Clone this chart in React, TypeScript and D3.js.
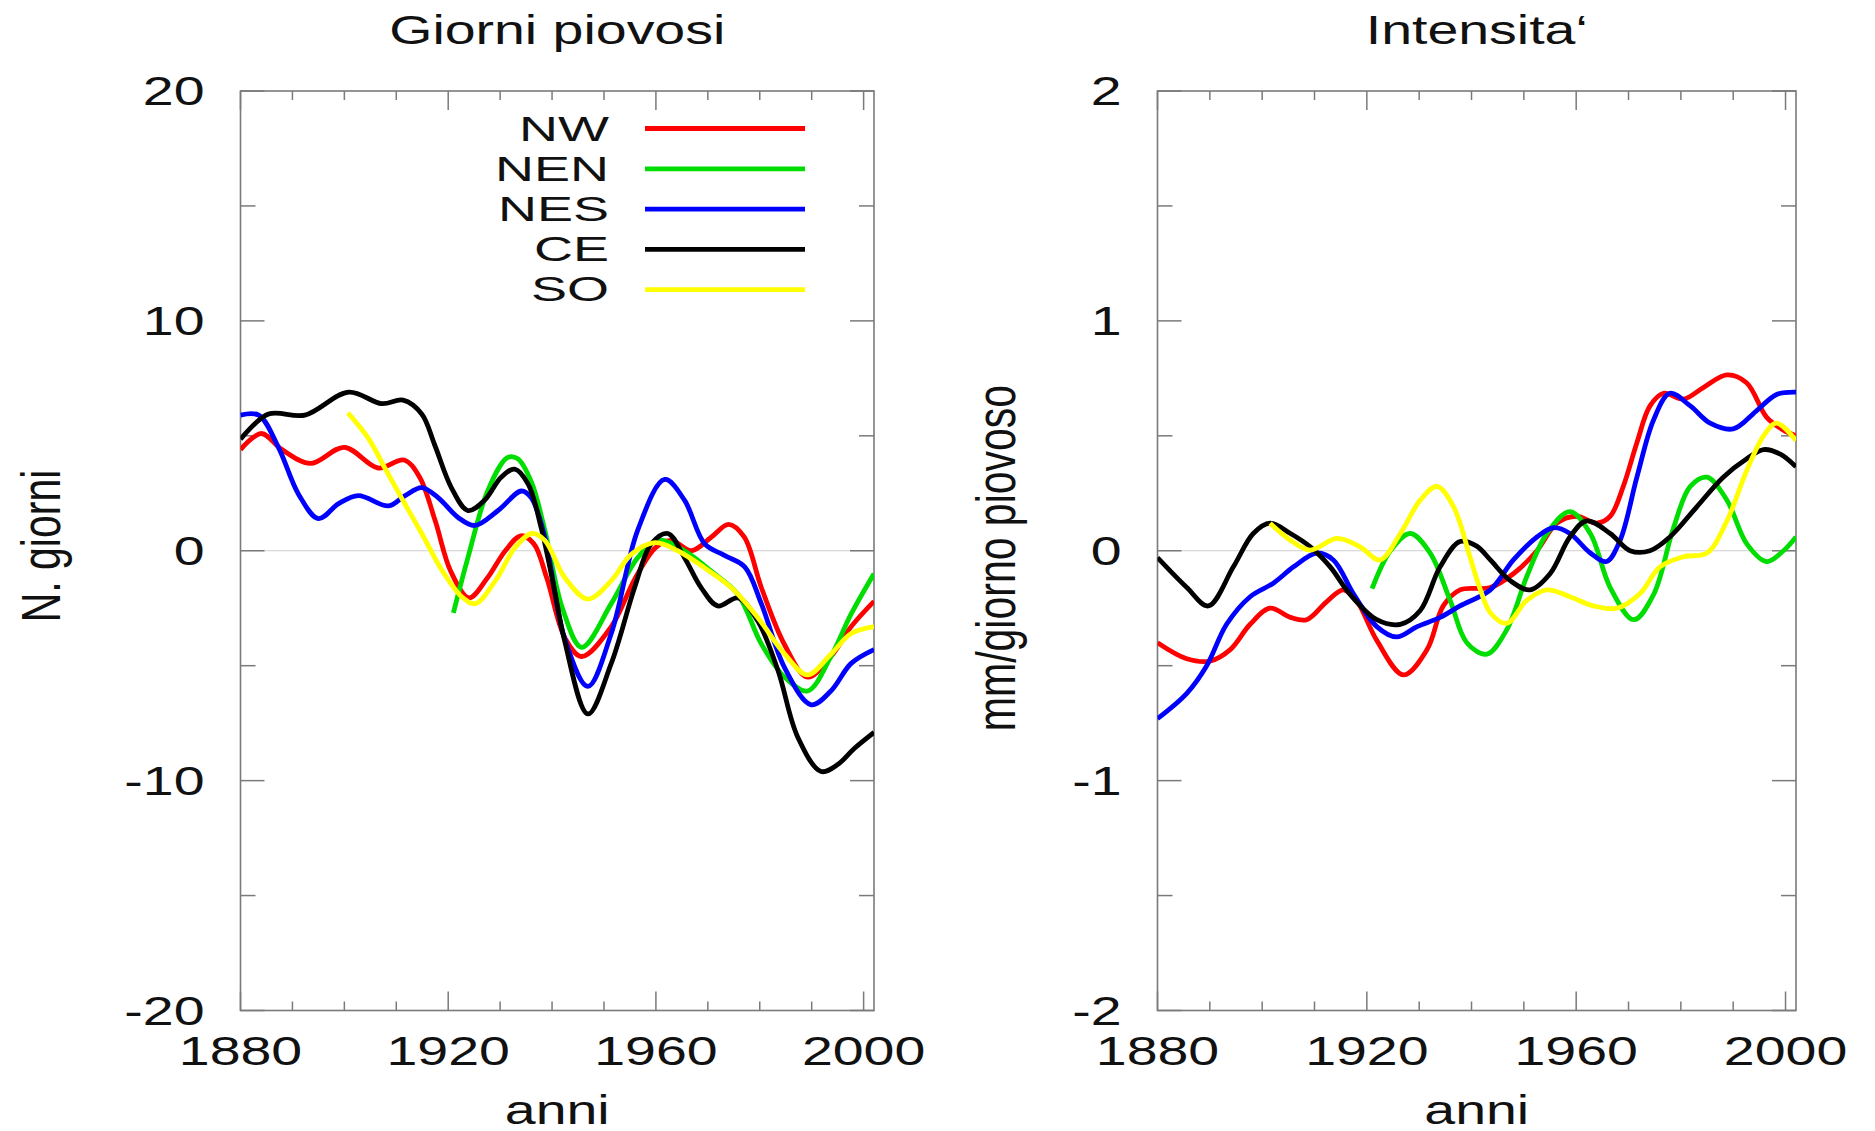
import * as d3 from 'd3';

// canvas + shared styling
const W = 1875;
const H = 1131;
const FONT = '"Liberation Sans", Arial, Helvetica, sans-serif';
const SX = 1.37; // the original picture is stretched horizontally
const FS = 40.5;
const FRAME = '#7a7a7a';

const seriesNames = ['NW', 'NEN', 'NES', 'CE', 'SO'];
const seriesColors = ['#ff0000', '#00dd00', '#0000ff', '#000000', '#ffff00'];

const xTicks = [1880, 1920, 1960, 2000];
const xMinor = [1890, 1900, 1910, 1930, 1940, 1950, 1970, 1980, 1990];

const giorniTicks = [20, 10, 0, -10, -20];
const giorniMinor = [15, 5, -5, -15];
const intensitaTicks = [2, 1, 0, -1, -2];
const intensitaMinor = [1.5, 0.5, -0.5, -1.5];

// Giorni piovosi (anomalie, n. giorni)
const giorniNW = [
  [1880, 4.4], [1884, 5.1], [1888, 4.4], [1893.5, 3.8], [1900, 4.5], [1906.5, 3.6],
  [1911.5, 3.95], [1914.5, 3.2], [1917.5, 1.3], [1920.5, -0.9], [1924, -2.05],
  [1927.5, -1.2], [1931, 0], [1934, 0.65], [1936.5, 0.3], [1939, -1.2], [1942.5, -3.8],
  [1945.7, -4.6], [1951.4, -3.3], [1956, -1.2], [1960, 0.15], [1963, 0.45], [1966.8, 0],
  [1970.7, 0.6], [1974, 1.15], [1977, 0.6], [1980.3, -1.6], [1984.8, -4.1],
  [1989.2, -5.5], [1993.7, -4.6], [1997.6, -3.3], [2002, -2.2],
];
const giorniNEN = [
  [1921, -2.7], [1923.8, -0.3], [1927.6, 2.6], [1931.4, 4.05], [1933.4, 4.0],
  [1936, 3.0], [1938.5, 1.0], [1942, -2.5], [1945.7, -4.2], [1951.4, -2.3],
  [1956.5, -0.3], [1960.4, 0.45], [1965.5, 0], [1970.7, -0.9], [1975.8, -1.9],
  [1980.3, -4.05], [1984.8, -5.5], [1989.2, -6.1], [1993.7, -4.6], [1997.6, -2.75],
  [2002, -1.0],
];
const giorniNES = [
  [1880, 5.9], [1883.5, 5.9], [1887.3, 4.5], [1891.2, 2.45], [1895, 1.4], [1898.9, 2.05],
  [1902.7, 2.4], [1908.5, 1.95], [1911.7, 2.4], [1914.9, 2.75], [1918.1, 2.3],
  [1921.9, 1.45], [1925.1, 1.1], [1929.6, 1.75], [1934.1, 2.6], [1936, 2.3],
  [1938.6, 0.6], [1942.4, -3.8], [1946.9, -5.9], [1951.4, -3.6], [1956.5, 0.9],
  [1961.7, 3.1], [1965.5, 2.2], [1969.4, 0.3], [1973.2, -0.2], [1977.1, -0.7],
  [1980.3, -2.3], [1984.8, -5.1], [1989.9, -6.7], [1993.7, -6.1], [1997.6, -4.9],
  [2002, -4.3],
];
const giorniCE = [
  [1880, 4.85], [1885.4, 5.95], [1892.4, 5.9], [1900.8, 6.9], [1907.2, 6.4],
  [1911.3, 6.55], [1914.9, 5.95], [1917.4, 4.6], [1920.6, 2.75], [1923.8, 1.75],
  [1927, 2.2], [1930.2, 3.2], [1932.8, 3.55], [1935.4, 2.9], [1937.9, 1.0],
  [1940.5, -1.75], [1942.4, -3.9], [1946.9, -7.1], [1951.4, -4.9], [1955.9, -1.6],
  [1959.1, 0.3], [1962.3, 0.75], [1965.5, -0.3], [1968.7, -1.6], [1971.9, -2.4],
  [1975.8, -2.05], [1979.6, -3.05], [1983.5, -5.2], [1987.3, -8.1], [1991.8, -9.6],
  [1995, -9.3], [1998.2, -8.6], [2002, -7.9],
];
const giorniSO = [
  [1900.7, 6.0], [1904.6, 4.9], [1907.8, 3.6], [1911, 2.3], [1914.9, 0.75],
  [1918.8, -0.85], [1922.6, -2.0], [1925.2, -2.3], [1929.1, -1.3], [1932.9, 0.15],
  [1936.1, 0.75], [1938.6, 0.45], [1942.4, -1.15], [1946.9, -2.1], [1951.4, -1.3],
  [1955.3, -0.15], [1959.8, 0.35], [1964.2, 0], [1969.4, -0.75], [1974.5, -1.6],
  [1979.6, -2.9], [1984.8, -4.5], [1989.2, -5.4], [1993.7, -4.5], [1997.6, -3.6],
  [2002, -3.3],
];

// Intensita' (mm/giorno piovoso)
const intensNW = [
  [1880, -0.4], [1885.6, -0.47], [1890, -0.48], [1893.9, -0.43], [1897.7, -0.32],
  [1901.5, -0.25], [1905.4, -0.29], [1908.5, -0.3], [1912.4, -0.22], [1915.5, -0.17],
  [1918.1, -0.22], [1921.9, -0.39], [1927, -0.54], [1931.5, -0.43], [1934.6, -0.24],
  [1937.8, -0.17], [1943.6, -0.16], [1948, -0.1], [1952.5, 0], [1956.3, 0.12],
  [1960.1, 0.15], [1963.9, 0.12], [1966.5, 0.15], [1969, 0.28], [1971.6, 0.47],
  [1974.1, 0.63], [1976.7, 0.685], [1980.5, 0.66], [1984.3, 0.71], [1988.8, 0.765],
  [1992.6, 0.73], [1996.4, 0.58], [1999.6, 0.525], [2002, 0.5],
];
const intensNEN = [
  [1921, -0.165], [1924.5, 0], [1928.3, 0.075], [1932.1, -0.01], [1935.9, -0.215],
  [1939.1, -0.4], [1942.9, -0.45], [1946.7, -0.345], [1950.6, -0.11], [1954.4, 0.075],
  [1958.8, 0.17], [1962.7, 0.075], [1966.5, -0.16], [1971, -0.3], [1974.8, -0.19],
  [1978.6, 0.1], [1981.8, 0.28], [1985, 0.32], [1988.8, 0.22], [1992.6, 0.03],
  [1996.4, -0.047], [1999.6, 0], [2002, 0.06],
];
const intensNES = [
  [1880, -0.73], [1885.6, -0.62], [1889.4, -0.5], [1893.2, -0.32], [1897.7, -0.2],
  [1902.2, -0.14], [1906, -0.07], [1910.4, -0.01], [1913.6, -0.04], [1917.5, -0.19],
  [1921.9, -0.33], [1925.7, -0.375], [1929.6, -0.33], [1934, -0.29], [1937.8, -0.24],
  [1943.6, -0.17], [1948, -0.04], [1952.5, 0.06], [1955.7, 0.1], [1958.8, 0.075],
  [1962.7, -0.01], [1965.8, -0.047], [1968.4, 0.046], [1971.6, 0.32], [1974.8, 0.57],
  [1977.9, 0.685], [1981.8, 0.63], [1985.6, 0.555], [1990, 0.53], [1994.5, 0.61],
  [1998.3, 0.68], [2002, 0.69],
];
const intensCE = [
  [1880, -0.03], [1885.6, -0.16], [1889.7, -0.24], [1894.5, -0.07], [1898.3, 0.075],
  [1901.5, 0.12], [1905.4, 0.075], [1909.2, 0.017], [1913, -0.07], [1916.8, -0.19],
  [1921.9, -0.3], [1926.4, -0.32], [1930.2, -0.26], [1934, -0.07], [1937.8, 0.04],
  [1941, 0.02], [1943.6, -0.04], [1947.4, -0.13], [1951.2, -0.17], [1955, -0.1],
  [1958.8, 0.06], [1962, 0.13], [1966.5, 0.075], [1970.3, 0], [1974.1, 0],
  [1977.9, 0.06], [1983, 0.19], [1988.1, 0.32], [1992.6, 0.4], [1995.8, 0.44],
  [1999, 0.42], [2002, 0.365],
];
const intensSO = [
  [1901.5, 0.12], [1905.4, 0.046], [1909.2, 0.003], [1914.3, 0.054], [1918.7, 0.017],
  [1922.5, -0.04], [1926.4, 0.075], [1930.2, 0.22], [1933.4, 0.28], [1936.6, 0.19],
  [1939.7, -0.026], [1941.5, -0.157], [1943.6, -0.27], [1946.7, -0.316],
  [1950.6, -0.215], [1954.4, -0.17], [1958.8, -0.2], [1963.3, -0.24], [1967.8, -0.25],
  [1972.2, -0.186], [1976, -0.07], [1980.5, -0.026], [1985, -0.01], [1988.8, 0.13],
  [1992.6, 0.35], [1995.8, 0.5], [1998.3, 0.555], [2002, 0.48],
];

const TOP = 91;
const BOTTOM = 1010.5;

function Label({ x, y, anchor = 'middle', size = FS, sx = SX, children }) {
  return (
    <text
      transform={`translate(${x},${y}) scale(${sx},1)`}
      textAnchor={anchor}
      fontFamily={FONT}
      fontSize={size}
      fill="#111"
    >
      {children}
    </text>
  );
}

function Panel({ id, left, right, title, yLabel, yLabelX, yLabelY, yDomain, yTicks, yMinor, series, legend }) {
  const x = d3.scaleLinear().domain([1880, 2002]).range([left, right]);
  const y = d3.scaleLinear().domain(yDomain).range([BOTTOM, TOP]);
  const line = d3
    .line()
    .x(d => x(d[0]))
    .y(d => y(d[1]))
    .curve(d3.curveCatmullRom.alpha(0.5));
  const cx = (left + right) / 2;

  return (
    <g>
      <defs>
        <clipPath id={`clip-${id}`}>
          <rect x={left} y={TOP} width={right - left} height={BOTTOM - TOP} />
        </clipPath>
      </defs>

      <Label x={cx} y={44}>{title}</Label>

      {/* zero line */}
      <line x1={left} x2={right} y1={y(0)} y2={y(0)} stroke="#cfcfcf" strokeWidth={1.2} />

      {/* frame + ticks */}
      <rect x={left} y={TOP} width={right - left} height={BOTTOM - TOP} fill="none" stroke={FRAME} strokeWidth={1.6} />
      {xTicks.map(t => (
        <g key={'xt' + t} stroke={FRAME} strokeWidth={1.5}>
          <line x1={x(t)} x2={x(t)} y1={BOTTOM} y2={BOTTOM - 19} />
          <line x1={x(t)} x2={x(t)} y1={TOP} y2={TOP + 19} />
        </g>
      ))}
      {xMinor.map(t => (
        <g key={'xm' + t} stroke={FRAME} strokeWidth={1.5}>
          <line x1={x(t)} x2={x(t)} y1={BOTTOM} y2={BOTTOM - 9} />
          <line x1={x(t)} x2={x(t)} y1={TOP} y2={TOP + 9} />
        </g>
      ))}
      {yTicks.map(t => (
        <g key={'yt' + t} stroke={FRAME} strokeWidth={1.5}>
          <line x1={left} x2={left + 24} y1={y(t)} y2={y(t)} />
          <line x1={right} x2={right - 24} y1={y(t)} y2={y(t)} />
        </g>
      ))}
      {yMinor.map(t => (
        <g key={'ym' + t} stroke={FRAME} strokeWidth={1.5}>
          <line x1={left} x2={left + 15} y1={y(t)} y2={y(t)} />
          <line x1={right} x2={right - 15} y1={y(t)} y2={y(t)} />
        </g>
      ))}

      {yTicks.map(t => (
        <Label key={'yl' + t} x={left - 36} y={y(t) + 14} anchor="end">{t}</Label>
      ))}
      {xTicks.map(t => (
        <Label key={'xl' + t} x={x(t)} y={1065}>{t}</Label>
      ))}

      <Label x={cx} y={1124}>anni</Label>
      <text
        transform={`translate(${yLabelX},${yLabelY}) scale(${SX},1) rotate(-90)`}
        textAnchor="middle"
        fontFamily={FONT}
        fontSize={41}
        fill="#111"
      >
        {yLabel}
      </text>

      <g clipPath={`url(#clip-${id})`}>
        {series.map((s, i) => (
          <path key={seriesNames[i]} d={line(s)} fill="none" stroke={seriesColors[i]} strokeWidth={4.8} strokeLinejoin="round" />
        ))}
      </g>

      {legend &&
        seriesNames.map((n, i) => (
          <g key={'lg' + n}>
            <Label x={609} y={141 + i * 40} anchor="end" size={36} sx={1.5}>{n}</Label>
            <line x1={645} x2={805} y1={128.5 + i * 40.3} y2={128.5 + i * 40.3} stroke={seriesColors[i]} strokeWidth={4.8} />
          </g>
        ))}
    </g>
  );
}

export default function App() {
  return (
    <svg
      width={W}
      height={H}
      style={{ position: 'absolute', left: 0, top: 0, background: '#fff' }}
    >
      <rect width={W} height={H} fill="#fff" />
      <Panel
        id="giorni"
        left={240.5}
        right={874}
        title="Giorni piovosi"
        yLabel="N. giorni"
        yLabelX={60}
        yLabelY={546}
        yDomain={[-20, 20]}
        yTicks={giorniTicks}
        yMinor={giorniMinor}
        series={[giorniNW, giorniNEN, giorniNES, giorniCE, giorniSO]}
        legend
      />
      <Panel
        id="intensita"
        left={1157.5}
        right={1796}
        title="Intensita‘"
        yLabel="mm/giorno piovoso"
        yLabelX={1015}
        yLabelY={558}
        yDomain={[-2, 2]}
        yTicks={intensitaTicks}
        yMinor={intensitaMinor}
        series={[intensNW, intensNEN, intensNES, intensCE, intensSO]}
        legend={false}
      />
    </svg>
  );
}
